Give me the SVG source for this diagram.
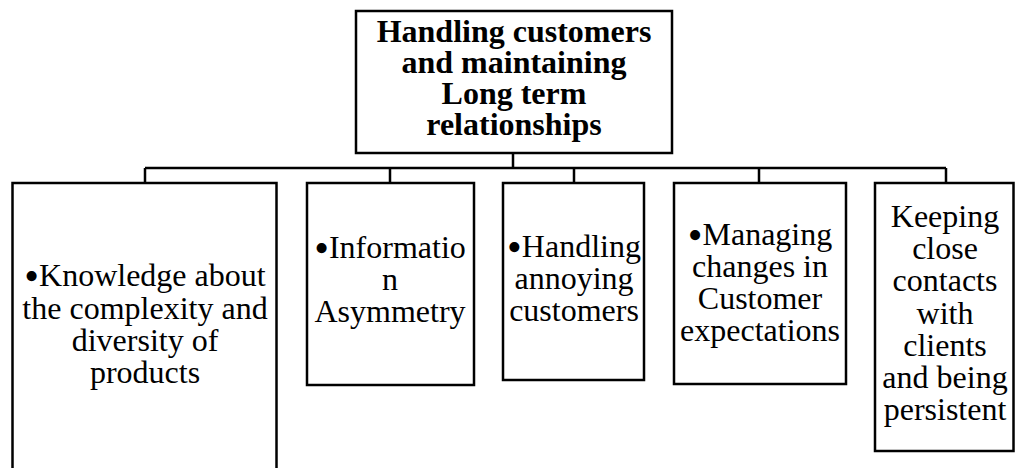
<svg xmlns="http://www.w3.org/2000/svg" width="1015" height="468" viewBox="0 0 1015 468">
<style>
.box{fill:#fff;stroke:#000;stroke-width:2.5}
.con{fill:none;stroke:#000;stroke-width:2.5}
text{font-family:"Liberation Serif","Times New Roman",serif;font-size:32px;fill:#000;text-anchor:middle}
.b{font-weight:bold}
.bu{font-size:42px}
</style>
<rect width="1015" height="468" fill="#fff"/>
<g id="connectors">
<path class="con" d="M513 153V168M145 168H946M145 168V183M390 168V183M574 168V183M759 168V183M946 168V183"/>
</g>
<g id="root">
<rect class="box" x="356" y="11" width="316" height="142"/>
<text class="b" x="514" y="42">Handling customers</text>
<text class="b" x="514" y="73">and maintaining</text>
<text class="b" x="514" y="104">Long term</text>
<text class="b" x="514" y="135">relationships</text>
</g>
<g id="knowledge">
<rect class="box" x="12.5" y="183" width="264" height="300"/>
<text x="145" y="286"><tspan class="bu" dy="4">•</tspan><tspan dy="-4">Knowledge about</tspan></text>
<text x="145" y="319">the complexity and</text>
<text x="145" y="351">diversity of</text>
<text x="145" y="383">products</text>
</g>
<g id="information">
<rect class="box" x="307" y="183" width="167" height="202"/>
<text x="390" y="258"><tspan class="bu" dy="4">•</tspan><tspan dy="-4">Informatio</tspan></text>
<text x="390" y="290">n</text>
<text x="390" y="322">Asymmetry</text>
</g>
<g id="annoying">
<rect class="box" x="503" y="183" width="141" height="197"/>
<text x="574" y="257"><tspan class="bu" dy="4">•</tspan><tspan dy="-4">Handling</tspan></text>
<text x="574" y="289">annoying</text>
<text x="574" y="321">customers</text>
</g>
<g id="expectations">
<rect class="box" x="674" y="183" width="172" height="201"/>
<text x="760" y="245"><tspan class="bu" dy="4">•</tspan><tspan dy="-4">Managing</tspan></text>
<text x="760" y="277">changes in</text>
<text x="760" y="309">Customer</text>
<text x="760" y="341">expectations</text>
</g>
<g id="contacts">
<rect class="box" x="875" y="183" width="138.5" height="268"/>
<text x="945" y="227">Keeping</text>
<text x="945" y="259">close</text>
<text x="945" y="291">contacts</text>
<text x="945" y="324">with</text>
<text x="945" y="356">clients</text>
<text x="945" y="388">and being</text>
<text x="945" y="420">persistent</text>
</g>
</svg>
